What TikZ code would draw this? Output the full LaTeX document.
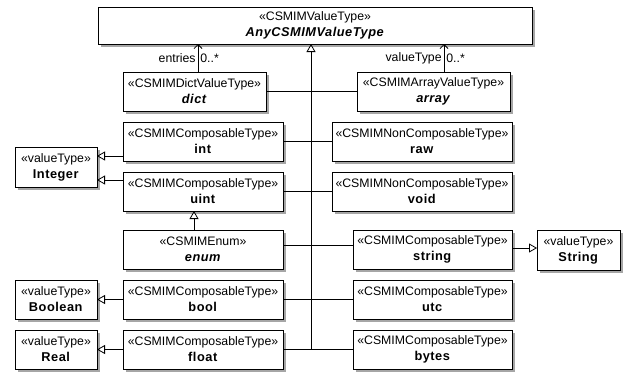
\documentclass[tikz,border=0pt]{standalone}
\usepackage{fontspec}
\setmainfont{Liberation Sans}
\usetikzlibrary{arrows.meta,shadows}
\newcommand\stereo[1]{«#1»}
\newcommand\nm[1]{{\fontsize{12.8}{16}\selectfont\addfontfeature{LetterSpace=4}\textbf{#1}}}
\newcommand\nmi[1]{{\fontsize{12.8}{16}\selectfont\addfontfeature{LetterSpace=4}\textbf{\textit{#1}}}}
\begin{document}
\begin{tikzpicture}[x=1pt,y=-1pt,
  box/.style={draw,line width=0.8pt,fill=white,align=center,inner sep=1pt,outer sep=0pt,
    font=\fontsize{12.3}{16}\selectfont,
    drop shadow={shadow xshift=3pt,shadow yshift=-3pt,fill=black!35,opacity=1}},
  gen/.style={line width=0.8pt,-{Triangle[open,width=9pt,length=8pt,line width=0.8pt]}},
  assoc/.style={line width=0.8pt,-{Straight Barb[length=4pt,width=8pt,line width=0.8pt]}},
  conn/.style={line width=0.8pt},
  lbl/.style={font=\fontsize{12.3}{14}\selectfont,inner sep=2pt}]
\useasboundingbox (0,0) rectangle (628,372);
\fill[white] (0,0) rectangle (628,372);
% top
\node[box,minimum width=434pt,minimum height=37pt] (top) at (315,25.5)
  {\stereo{CSMIMValueType}\\\nmi{AnyCSMIMValueType}};
% left column
\node[box,minimum width=143pt,minimum height=39pt] (dict) at (194.5,91.5)
  {\stereo{CSMIMDictValueType}\\\nmi{dict}};
\node[box,minimum width=160pt,minimum height=39pt] (int) at (203,141.5)
  {\stereo{CSMIMComposableType}\\\nm{int}};
\node[box,minimum width=160pt,minimum height=39pt] (uint) at (203,191.5)
  {\stereo{CSMIMComposableType}\\\nm{uint}};
\node[box,minimum width=160pt,minimum height=39pt] (enum) at (203,249.5)
  {\stereo{CSMIMEnum}\\\nmi{enum}};
\node[box,minimum width=160pt,minimum height=39pt] (bool) at (203,299.5)
  {\stereo{CSMIMComposableType}\\\nm{bool}};
\node[box,minimum width=160pt,minimum height=39pt] (float) at (203,349.5)
  {\stereo{CSMIMComposableType}\\\nm{float}};
% right column
\node[box,minimum width=153pt,minimum height=39pt] (array) at (433.5,91.5)
  {\stereo{CSMIMArrayValueType}\\\nmi{array}};
\node[box,minimum width=180pt,minimum height=39pt] (raw) at (422,141.5)
  {\stereo{CSMIMNonComposableType}\\\nm{raw}};
\node[box,minimum width=180pt,minimum height=39pt] (void) at (422,191.5)
  {\stereo{CSMIMNonComposableType}\\\nm{void}};
\node[box,minimum width=159pt,minimum height=39pt] (string) at (432.5,249.5)
  {\stereo{CSMIMComposableType}\\\nm{string}};
\node[box,minimum width=159pt,minimum height=39pt] (utc) at (432.5,299.5)
  {\stereo{CSMIMComposableType}\\\nm{utc}};
\node[box,minimum width=159pt,minimum height=39pt] (bytes) at (432.5,349.5)
  {\stereo{CSMIMComposableType}\\\nm{bytes}};
% value types
\node[box,minimum width=82pt,minimum height=40pt] (Integer) at (56,167)
  {\stereo{valueType}\\\nm{Integer}};
\node[box,minimum width=82pt,minimum height=39pt] (Boolean) at (56,299.5)
  {\stereo{valueType}\\\nm{Boolean}};
\node[box,minimum width=82pt,minimum height=39pt] (Real) at (56,349.5)
  {\stereo{valueType}\\\nm{Real}};
\node[box,minimum width=83pt,minimum height=40pt] (String) at (578.5,250)
  {\stereo{valueType}\\\nm{String}};
% bus
\coordinate (busb) at (311,349.5);
\draw[gen] (busb) -- (busb |- top.south);
\draw[conn] (dict.east) -- (array.west);
\draw[conn] (int.east) -- (raw.west);
\draw[conn] (uint.east) -- (void.west);
\draw[conn] ([yshift=4pt]enum.east) -- ([yshift=4pt]string.west);
\draw[conn] (bool.east) -- (utc.west);
\draw[conn] (float.east) -- (bytes.west);
% generalizations to value types
\draw[gen] (int.west |- 0,156) -- (Integer.east |- 0,156);
\draw[gen] (uint.west |- 0,180) -- (Integer.east |- 0,180);
\draw[gen] (bool.west) -- (Boolean.east);
\draw[gen] (float.west) -- (Real.east);
\draw[gen] (string.east |- 0,248) -- (String.west |- 0,248);
\draw[gen] (enum.north -| 194,0) -- (uint.south -| 194,0);
% associations
\draw[assoc] (dict.north -| 198,0) -- (top.south -| 198,0)
  node[lbl,pos=0.5,left] {entries} node[lbl,pos=0.5,right] {0..*};
\draw[assoc] (array.north -| 444,0) -- (top.south -| 444,0)
  node[lbl,pos=0.5,left] {valueType} node[lbl,pos=0.5,right] {0..*};
\end{tikzpicture}
\end{document}
